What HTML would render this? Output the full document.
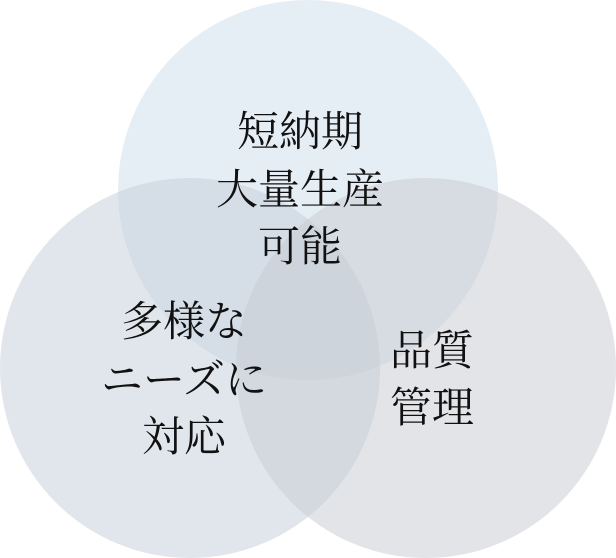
<!DOCTYPE html>
<html><head><meta charset="utf-8"><style>
html,body{margin:0;padding:0;background:#fff;}
svg{display:block}
text{font-family:"Liberation Serif","Noto Serif CJK SC","Noto Sans CJK JP",serif;font-size:42px;fill:#111;text-anchor:middle;}
</style></head><body>
<svg width="616" height="558" viewBox="0 0 616 558">
<circle cx="308" cy="190" r="190" fill="rgb(205,222,236)" fill-opacity="0.5"/>
<circle cx="190" cy="368" r="190" fill="rgb(196,206,218)" fill-opacity="0.5"/>
<circle cx="426" cy="368" r="190" fill="rgb(200,202,210)" fill-opacity="0.5"/>
<text x="300" y="146">短納期</text>
<text x="300" y="204">大量生産</text>
<text x="300" y="261">可能</text>
<text x="184" y="336">多様な</text>
<text x="184" y="394">ニーズに</text>
<text x="184" y="451">対応</text>
<text x="432" y="365">品質</text>
<text x="432" y="422">管理</text>
</svg>
</body></html>
